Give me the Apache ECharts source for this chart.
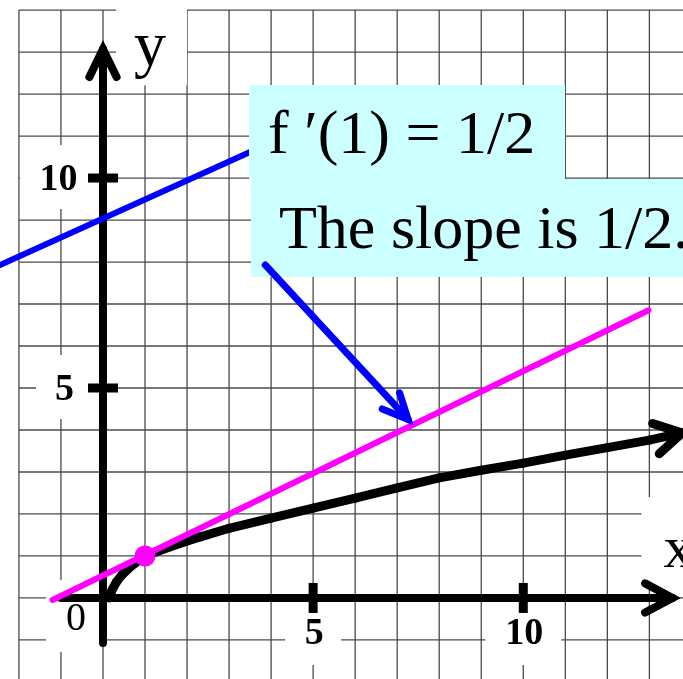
<!DOCTYPE html>
<html>
<head>
<meta charset="utf-8">
<script src="https://cdn.jsdelivr.net/npm/echarts@6/dist/echarts.min.js"></script>
<style>
html,body{margin:0;padding:0;background:#fff;}
#main{width:683px;height:679px;}
</style>
</head>
<body>
<div id="main"></div>
<script>
// visible window
var xMin = -2.45, xMax = 13.8, yMin = -1.93, yMax = 14.24;

// square grid
var gridXs = [-2, -1, 0, 1, 2, 3, 4, 5, 6, 7, 8, 9, 10, 11, 12, 13];
var gridYs = [-1, 0, 1, 2, 3, 4, 5, 6, 7, 8, 9, 10, 11, 12, 13, 14];

// ticks
var tickXs = [5, 10];
var tickYs = [5, 10];

// axis extents
var axisLineX = [-1, 13.55];
var axisLineY = [-1.07, 13.07];

// the curve
var curveX = [0.15, 0.22, 0.32, 0.45, 0.65, 1, 1.6, 2.3, 3, 4, 5, 6, 7, 8, 9, 10, 11, 12, 13, 13.78];
var curveY = [0, 0.2, 0.38, 0.55, 0.74, 1, 1.22, 1.45, 1.66, 1.9, 2.14, 2.38, 2.62, 2.86, 3.04, 3.21, 3.4, 3.58, 3.76, 3.93];

// tangent line at x = 1
var tangentX = [-1.2, 12.98];
var tangentY = [-0.05, 6.85];
var touchPoint = [1, 1];

// blue line and blue pointer
var blueLineX = [-2.45, 3.5];
var blueLineY = [7.93, 10.62];
var blueArrowX = [3.86, 7.26];
var blueArrowY = [7.93, 4.25];

var serif = '"Liberation Serif", "Times New Roman", serif';
var chart = echarts.init(document.getElementById('main'));

// polyline drawn segment by segment, optional open arrow head at the end
function pathSeries(xs, ys, color, width, head, z) {
    var data = xs.map(function (x, i) { return [x, ys[i]]; });
    return {
        type: 'custom', z: z, silent: true, clip: false,
        data: data,
        renderItem: function (params, api) {
            var i = params.dataIndex;
            if (i === 0) return { type: 'group', children: [] };
            var p0 = api.coord([xs[i - 1], ys[i - 1]]);
            var p1 = api.coord([api.value(0), api.value(1)]);
            var kids = [{
                type: 'line',
                shape: { x1: p0[0], y1: p0[1], x2: p1[0], y2: p1[1] },
                style: { stroke: color, lineWidth: width, lineCap: 'round' }
            }];
            if (head && i === xs.length - 1) {
                var dx = p1[0] - p0[0], dy = p1[1] - p0[1];
                var L = Math.sqrt(dx * dx + dy * dy);
                var ux = dx / L, uy = dy / L;
                var pts = [];
                [head.angle, -head.angle].forEach(function (a) {
                    var r = a * Math.PI / 180;
                    var rx = ux * Math.cos(r) - uy * Math.sin(r);
                    var ry = ux * Math.sin(r) + uy * Math.cos(r);
                    pts.push([p1[0] - head.len * rx, p1[1] - head.len * ry]);
                });
                kids.push({
                    type: 'polyline',
                    shape: { points: [pts[0], p1, pts[1]] },
                    style: { stroke: color, fill: null, lineWidth: width, lineCap: 'round', lineJoin: 'miter' }
                });
            }
            return { type: 'group', children: kids };
        }
    };
}

// grid lines
var vGrid = {
    type: 'custom', z: 1, silent: true,
    data: gridXs.map(function (v) { return [v, 0]; }),
    renderItem: function (params, api) {
        var a = api.coord([api.value(0), yMin]);
        var b = api.coord([api.value(0), gridYs[gridYs.length - 1]]);
        return { type: 'line', shape: { x1: a[0], y1: a[1], x2: b[0], y2: b[1] },
            style: { stroke: '#4a4a4a', lineWidth: 1.3 } };
    }
};
var hGrid = {
    type: 'custom', z: 1, silent: true,
    data: gridYs.map(function (v) { return [0, v]; }),
    renderItem: function (params, api) {
        var a = api.coord([gridXs[0], api.value(1)]);
        var b = api.coord([xMax, api.value(1)]);
        return { type: 'line', shape: { x1: a[0], y1: a[1], x2: b[0], y2: b[1] },
            style: { stroke: '#4a4a4a', lineWidth: 1.3 } };
    }
};

// tick marks
var ticks = {
    type: 'custom', z: 4, silent: true,
    data: tickXs.map(function (v) { return [v, 0]; }).concat(tickYs.map(function (v) { return [0, v]; })),
    renderItem: function (params, api) {
        var p = api.coord([api.value(0), api.value(1)]);
        var onX = api.value(1) === 0;
        var shape = onX ? { x1: p[0], y1: p[1] - 15, x2: p[0], y2: p[1] + 15 }
                        : { x1: p[0] - 15, y1: p[1], x2: p[0] + 15, y2: p[1] };
        return { type: 'line', shape: shape, style: { stroke: '#000', lineWidth: 9 } };
    }
};

// tick labels with white patches
var xLabels = {
    type: 'custom', z: 2, silent: true,
    data: tickXs.map(function (v) { return [v, 0]; }),
    renderItem: function (params, api) {
        var v = api.value(0);
        var p = api.coord([v, 0]);
        var hw = String(v).length > 1 ? 38 : 28;
        return { type: 'group', children: [
            { type: 'rect', shape: { x: p[0] - hw, y: p[1] + 15, width: hw * 2, height: 52 }, style: { fill: '#fff' } },
            { type: 'text', style: { text: String(v), x: p[0] + 1, y: p[1] + 36, align: 'center', verticalAlign: 'middle',
                font: 'bold 38px ' + serif, fill: '#000' } }
        ] };
    }
};
var yLabels = {
    type: 'custom', z: 2, silent: true,
    data: tickYs.map(function (v) { return [0, v]; }),
    renderItem: function (params, api) {
        var v = api.value(1);
        var p = api.coord([0, v]);
        var wide = String(v).length > 1;
        var left = wide ? 83 : 67;
        return { type: 'group', children: [
            { type: 'rect', shape: { x: p[0] - left, y: p[1] - 33, width: left - 15, height: 64 }, style: { fill: '#fff' } },
            { type: 'text', style: { text: String(v), x: p[0] - (wide ? 44.5 : 38.5), y: p[1] + 2, align: 'center', verticalAlign: 'middle',
                font: 'bold 38px ' + serif, fill: '#000' } }
        ] };
    }
};

// axis names and origin
var axisNames = {
    type: 'custom', z: 2, silent: true,
    data: [[0, 0]],
    renderItem: function (params, api) {
        var o = api.coord([0, 0]);
        var yt = api.coord([0, axisLineY[1]]);
        var xt = api.coord([axisLineX[1], 0]);
        return { type: 'group', children: [
            { type: 'rect', shape: { x: o[0] - 57, y: o[1] - 18, width: 54, height: 72 }, style: { fill: '#fff' } },
            { type: 'text', style: { text: '0', x: o[0] - 27, y: o[1] + 22, align: 'center', verticalAlign: 'middle', font: '40px ' + serif, fill: '#000' } },
            { type: 'rect', shape: { x: yt[0] + 13, y: 0, width: 71, height: yt[1] + 36 }, style: { fill: '#fff' } },
            { type: 'text', style: { text: 'y', x: yt[0] + 47, y: yt[1] - 1, align: 'center', verticalAlign: 'middle', font: '64px ' + serif, fill: '#000' } },
            { type: 'rect', shape: { x: xt[0] - 31, y: xt[1] - 101, width: 60, height: 93 }, style: { fill: '#fff' } },
            { type: 'text', style: { text: 'x', x: xt[0] - 9, y: xt[1] - 47, align: 'left', verticalAlign: 'middle', font: '60px ' + serif, fill: '#000' } }
        ] };
    }
};

var option = {
    backgroundColor: '#fff',
    animation: false,
    grid: { left: 0, right: 0, top: 0, bottom: 0 },
    xAxis: { type: 'value', min: xMin, max: xMax, show: false },
    yAxis: { type: 'value', min: yMin, max: yMax, show: false },
    graphic: [
        { type: 'rect', z: 10, shape: { x: 249, y: 85, width: 316, height: 95 }, style: { fill: '#ccffff' } },
        { type: 'rect', z: 10, shape: { x: 251, y: 179, width: 440, height: 98 }, style: { fill: '#ccffff' } },
        { type: 'text', z: 12, style: { text: 'f \u2032(1) = 1/2', x: 268, y: 137, verticalAlign: 'middle', font: '62px ' + serif, fill: '#000' } },
        { type: 'text', z: 12, style: { text: 'The slope is 1/2.', x: 279, y: 232, verticalAlign: 'middle', font: '62px ' + serif, fill: '#000' } }
    ],
    series: [
        vGrid,
        hGrid,
        xLabels,
        yLabels,
        axisNames,
        pathSeries(axisLineX, [0, 0], '#000', 8, { len: 31, angle: 28 }, 4),
        pathSeries([0, 0], axisLineY, '#000', 8, { len: 31, angle: 26 }, 4),
        ticks,
        pathSeries(blueLineX, blueLineY, '#0000ff', 6, null, 5),
        pathSeries(curveX, curveY, '#000', 9, { len: 31, angle: 30 }, 5),
        pathSeries(tangentX, tangentY, '#ff00ff', 6, null, 6),
        {
            type: 'scatter', z: 7, silent: true,
            data: [touchPoint],
            symbolSize: 21,
            itemStyle: { color: '#ff00ff', opacity: 1 }
        },
        pathSeries(blueArrowX, blueArrowY, '#0000ff', 7, { len: 28, angle: 25 }, 11)
    ]
};
chart.setOption(option);
</script>
</body>
</html>
